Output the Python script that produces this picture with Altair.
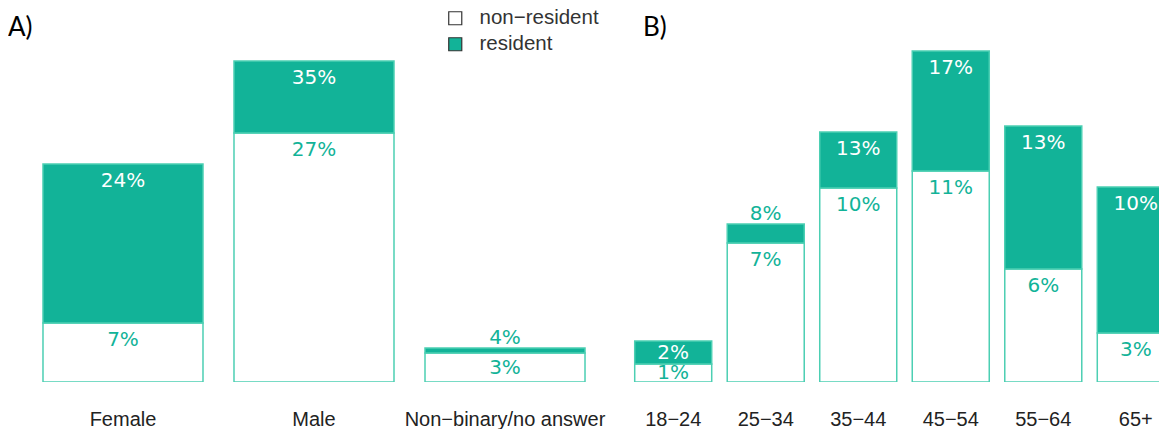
import altair as alt
import pandas as pd

# ---- data ----
groups = ["non\u2212resident", "resident"]

gender = ["Female", "Male", "Non\u2212binary/no answer"]
gender_nonres = [59, 249, 29]
gender_res = [159, 72, 5]
gender_nonres_pct = [7, 27, 3]
gender_res_pct = [24, 35, 4]

age = ["18\u221224", "25\u221234", "35\u221244", "45\u221254", "55\u221264", "65+"]
age_nonres = [18, 139, 194, 211, 113, 49]
age_res = [23, 19, 56, 120, 143, 146]
age_nonres_pct = [1, 7, 10, 11, 6, 3]
age_res_pct = [2, 8, 13, 17, 13, 10]

TEAL = "#12b398"
EDGE = "#4ccfb3"
YMAX = 334


def build(cats, nonres, res, p_nonres, p_res):
    rows = []
    for c, n, r, pn, pr in zip(cats, nonres, res, p_nonres, p_res):
        rows.append(dict(cat=c, group=groups[0], lo=0, hi=n, mid=n / 2,
                         pct=f"{pn}%", place="top" if n >= 30 else "middle",
                         ink="on_white"))
        place = "top" if r >= 30 else ("middle" if r >= 20 else "above")
        rows.append(dict(cat=c, group=groups[1], lo=n, hi=n + r, mid=n + r / 2,
                         pct=f"{pr}%", place=place,
                         ink="on_white" if place == "above" else "on_fill"))
    return pd.DataFrame(rows)


LEGEND = alt.Legend(title=None, orient="none", legendX=437, legendY=-40,
                    symbolType="square", symbolSize=170,
                    symbolStrokeColor="#333", symbolStrokeWidth=1.2,
                    labelFontSize=20.5, labelFont="Liberation Sans",
                    labelColor="#333", labelOffset=14, rowPadding=5)


def panel(df, cats, title, width, rng, p_in, p_out, dx, show_legend):
    xscale = alt.Scale(domain=cats, paddingInner=p_in, paddingOuter=p_out, range=[0, rng])
    x = alt.X("cat:N", sort=cats, scale=xscale, axis=None)
    yscale = alt.Scale(domain=[0, YMAX], nice=False)
    bars = alt.Chart(df).mark_bar(stroke=EDGE, strokeWidth=1.5, clip=True).encode(
        x=x,
        y=alt.Y("hi:Q", scale=yscale, axis=None),
        y2="lo:Q",
        color=alt.Color("group:N", scale=alt.Scale(domain=groups, range=["#ffffff", TEAL]),
                        legend=LEGEND if show_legend else None),
    )
    ink = alt.Fill("ink:N", scale=alt.Scale(domain=["on_fill", "on_white"], range=["#ffffff", TEAL]),
                   legend=None)
    base = alt.Chart(df).encode(x=alt.X("cat:N", sort=cats), text="pct:N", fill=ink)
    tfont = dict(font="DejaVu Sans", fontSize=20, align="center")
    t_top = base.mark_text(baseline="top", dy=7, **tfont).encode(
        y=alt.Y("hi:Q", scale=yscale)).transform_filter(alt.datum.place == "top")
    t_mid = base.mark_text(baseline="middle", dy=0, **tfont).encode(
        y=alt.Y("mid:Q", scale=yscale)).transform_filter(alt.datum.place == "middle")
    t_above = base.mark_text(baseline="alphabetic", dy=-4, **tfont).encode(
        y=alt.Y("hi:Q", scale=yscale)).transform_filter(alt.datum.place == "above")
    # category labels (drawn as text under the bars, positioned by the x scale)
    cat_labels = alt.Chart(pd.DataFrame({"cat": cats})).mark_text(
        baseline="top", dy=28, align="center", font="Liberation Sans",
        fontSize=20, color="#222").encode(
        x=alt.X("cat:N", sort=cats), y=alt.datum(0, scale=yscale), text="cat:N")
    return alt.layer(bars, t_top, t_mid, t_above, cat_labels).properties(
        width=width, height=YMAX,
        title=alt.TitleParams(title, anchor="start", fontSize=26, font="Lato",
                              fontWeight="normal", color="#000", offset=7, dx=dx))


dfA = build(gender, gender_nonres, gender_res, gender_nonres_pct, gender_res_pct)
dfB = build(age, age_nonres, age_res, age_nonres_pct, age_res_pct)

A = panel(dfA, gender, "A)", 612, 612, 0.1623, 0.1832, 0, True)
B = panel(dfB, age, "B)", 539, 569, 0.1676, 0.159, 23, False)

chart = alt.hconcat(A, B, spacing=0).resolve_scale(color="shared", fill="shared").properties(
    padding={"left": 0, "top": 0, "right": 0, "bottom": 0},
    background="white",
).configure_view(stroke=None)

chart.save("out.html", embed_options={"renderer": "svg", "actions": False})
